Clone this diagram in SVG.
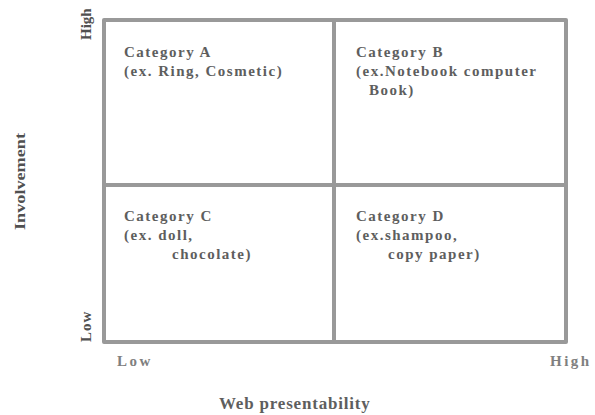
<svg xmlns="http://www.w3.org/2000/svg" width="595" height="415" viewBox="0 0 595 415">
<style>
.frame{fill:none;stroke:#999;stroke-width:4;stroke-linejoin:round}
.grid{fill:none;stroke:#999;stroke-width:4}
.cat{font-family:"Liberation Serif","Times New Roman",serif;font-weight:bold;font-size:15px;letter-spacing:1.5px;fill:#5e5e5e}
.ax{font-family:"Liberation Serif","Times New Roman",serif;font-weight:bold;font-size:15px;letter-spacing:2.5px;fill:#808080}
.vax{font-family:"Liberation Serif","Times New Roman",serif;font-weight:bold;font-size:15px;fill:#505050}
.title{font-family:"Liberation Serif","Times New Roman",serif;font-weight:bold;font-size:17px;letter-spacing:0.8px;fill:#5e5e5e}
</style>
<rect width="595" height="415" fill="#fff"/>
<g id="connectors">
<rect class="frame" x="104" y="20" width="462" height="322"/>
<line class="grid" x1="334" y1="20" x2="334" y2="342"/>
<line class="grid" x1="104" y1="185" x2="566" y2="185"/>
</g>
<g id="quadrant-a">
<text class="cat" x="124" y="57">Category A</text>
<text class="cat" x="124" y="76">(ex. Ring, Cosmetic)</text>
</g>
<g id="quadrant-b">
<text class="cat" x="356" y="57">Category B</text>
<text class="cat" x="356" y="76">(ex.Notebook computer</text>
<text class="cat" x="369" y="95">Book)</text>
</g>
<g id="quadrant-c">
<text class="cat" x="124" y="221">Category C</text>
<text class="cat" x="124" y="240">(ex. doll,</text>
<text class="cat" x="172" y="259">chocolate)</text>
</g>
<g id="quadrant-d">
<text class="cat" x="356" y="221">Category D</text>
<text class="cat" x="356" y="240">(ex.shampoo,</text>
<text class="cat" x="388" y="259">copy paper)</text>
</g>
<g id="y-axis">
<text class="vax" transform="translate(91,40) rotate(-90)">High</text>
<text class="vax" transform="translate(91,342) rotate(-90)" letter-spacing="1">Low</text>
<text class="vax" transform="translate(25,230) rotate(-90)" textLength="97" lengthAdjust="spacingAndGlyphs">Involvement</text>
</g>
<g id="x-axis">
<text class="ax" x="117" y="366">Low</text>
<text class="ax" x="550" y="366">High</text>
<text class="title" x="219" y="409">Web presentability</text>
</g>
</svg>
